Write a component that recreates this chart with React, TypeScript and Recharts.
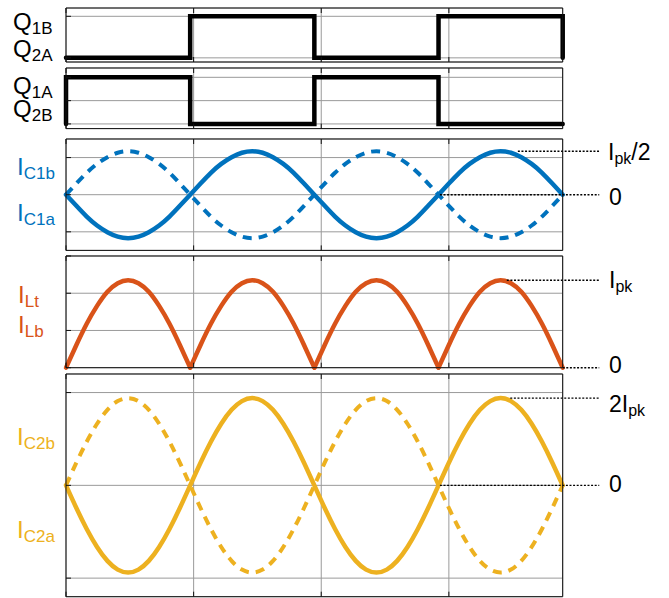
import React from 'react';
import { LineChart, Line, XAxis, YAxis, CartesianGrid, ReferenceLine } from 'recharts';

// phase in degrees, one sample every 15 deg, 4 half periods
const t = [
  0, 15, 30, 45, 60, 75, 90, 105, 120, 135, 150, 165,
  180, 195, 210, 225, 240, 255, 270, 285, 300, 315, 330, 345,
  360, 375, 390, 405, 420, 435, 450, 465, 480, 495, 510, 525,
  540, 555, 570, 585, 600, 615, 630, 645, 660, 675, 690, 705,
  720,
];
// vertical grid lines (not on the half periods)
const xTicks = [0, 185, 370, 555];

// gate signals
const q1bT = [0, 180, 360, 540, 720];
const q1bV = [0, 1, 0, 1, 0];
const q1aT = [0, 0, 180, 360, 540, 720];
const q1aV = [0, 1, 0, 1, 0, 0];

// capacitor C1 currents
const ic1a = [
  0, -0.3, -0.59, -0.83, -1.01, -1.13, -1.17, -1.13, -1.01, -0.83, -0.59, -0.3,
  0, 0.3, 0.59, 0.83, 1.01, 1.13, 1.17, 1.13, 1.01, 0.83, 0.59, 0.3,
  0, -0.3, -0.59, -0.83, -1.01, -1.13, -1.17, -1.13, -1.01, -0.83, -0.59, -0.3,
  0, 0.3, 0.59, 0.83, 1.01, 1.13, 1.17, 1.13, 1.01, 0.83, 0.59, 0.3,
  0,
];
const ic1b = [
  0, 0.3, 0.59, 0.83, 1.01, 1.13, 1.17, 1.13, 1.01, 0.83, 0.59, 0.3,
  0, -0.3, -0.59, -0.83, -1.01, -1.13, -1.17, -1.13, -1.01, -0.83, -0.59, -0.3,
  0, 0.3, 0.59, 0.83, 1.01, 1.13, 1.17, 1.13, 1.01, 0.83, 0.59, 0.3,
  0, -0.3, -0.59, -0.83, -1.01, -1.13, -1.17, -1.13, -1.01, -0.83, -0.59, -0.3,
  0,
];

// inductor current (rectified)
const il = [
  0, 0.61, 1.18, 1.66, 2.04, 2.27, 2.35, 2.27, 2.04, 1.66, 1.18, 0.61,
  0, 0.61, 1.18, 1.66, 2.04, 2.27, 2.35, 2.27, 2.04, 1.66, 1.18, 0.61,
  0, 0.61, 1.18, 1.66, 2.04, 2.27, 2.35, 2.27, 2.04, 1.66, 1.18, 0.61,
  0, 0.61, 1.18, 1.66, 2.04, 2.27, 2.35, 2.27, 2.04, 1.66, 1.18, 0.61,
  0,
];

// capacitor C2 currents
const ic2a = [
  0, -1.22, -2.35, -3.32, -4.07, -4.54, -4.7, -4.54, -4.07, -3.32, -2.35, -1.22,
  0, 1.22, 2.35, 3.32, 4.07, 4.54, 4.7, 4.54, 4.07, 3.32, 2.35, 1.22,
  0, -1.22, -2.35, -3.32, -4.07, -4.54, -4.7, -4.54, -4.07, -3.32, -2.35, -1.22,
  0, 1.22, 2.35, 3.32, 4.07, 4.54, 4.7, 4.54, 4.07, 3.32, 2.35, 1.22,
  0,
];
const ic2b = [
  0, 1.22, 2.35, 3.32, 4.07, 4.54, 4.7, 4.54, 4.07, 3.32, 2.35, 1.22,
  0, -1.22, -2.35, -3.32, -4.07, -4.54, -4.7, -4.54, -4.07, -3.32, -2.35, -1.22,
  0, 1.22, 2.35, 3.32, 4.07, 4.54, 4.7, 4.54, 4.07, 3.32, 2.35, 1.22,
  0, -1.22, -2.35, -3.32, -4.07, -4.54, -4.7, -4.54, -4.07, -3.32, -2.35, -1.22,
  0,
];

const BLUE = '#0072BD';
const ORANGE = '#D95319';
const YELLOW = '#EDB120';
const FONT = '"Liberation Sans", Arial, Helvetica, sans-serif';

const W = 669;
const PAD = 12;
const M_LEFT = 66;
const M_RIGHT = 106.3;

const q1bData = q1bT.map((x, i) => ({ t: x, v: q1bV[i] }));
const q1aData = q1aT.map((x, i) => ({ t: x, v: q1aV[i] }));
const ic1Data = t.map((x, i) => ({ t: x, a: ic1a[i], b: ic1b[i] }));
// split the rectified wave into its four arches so the cusps stay sharp
const ilData = t.map((x, i) => {
  const row: any = { t: x };
  for (let k = 0; k < 4; k++) row['h' + k] = i >= k * 12 && i <= k * 12 + 12 ? il[i] : null;
  return row;
});
const ic2Data = t.map((x, i) => ({ t: x, a: ic2a[i], b: ic2b[i] }));

const noTick = () => <g />;

function Panel({ top, height, data, yDomain, yTicks, children }: any) {
  const axis = { mirror: true, tick: noTick, tickSize: 5, stroke: '#111' };
  return (
    <div style={{ position: 'absolute', left: 0, top: top - PAD }}>
      <LineChart
        width={W}
        height={height + 2 * PAD}
        data={data}
        margin={{ top: PAD, bottom: PAD, left: M_LEFT, right: M_RIGHT }}
      >
        <CartesianGrid stroke="#9a9a9a" horizontal vertical />
        <XAxis type="number" dataKey="t" domain={[0, 720]} ticks={xTicks} {...axis} />
        <XAxis xAxisId="top" orientation="top" type="number" dataKey="t" domain={[0, 720]} ticks={xTicks} {...axis} />
        <YAxis type="number" domain={yDomain} ticks={yTicks} {...axis} />
        <YAxis yAxisId="right" orientation="right" type="number" domain={yDomain} ticks={yTicks} {...axis} />
        {children}
      </LineChart>
    </div>
  );
}

function dotted(x1: number, x2: number, y: number, key: string) {
  return (
    <ReferenceLine
      key={key}
      segment={[{ x: x1, y }, { x: x2, y }]}
      stroke="#000"
      strokeWidth={1.4}
      strokeDasharray="2 1.6"
      ifOverflow="visible"
    />
  );
}

function Label({ x, y, main, sub, tail, color = '#000', size = 24, subSize = 17 }: any) {
  return (
    <text x={x} y={y} fill={color} fontSize={size} fontFamily={FONT}>
      {main}
      <tspan fontSize={subSize} dy={4}>{sub}</tspan>
      {tail ? <tspan dy={-4} fontSize={size}>{tail}</tspan> : null}
    </text>
  );
}

const lineBase = { dot: false, activeDot: false, isAnimationActive: false } as const;

export default function App() {
  return (
    <div style={{ position: 'absolute', left: 0, top: 0, width: W, height: 598, background: '#fff' }}>
      <Panel top={8} height={54} data={q1bData} yDomain={[-0.1, 1.2]} yTicks={[0, 0.5, 1]}>
        <Line type="stepAfter" dataKey="v" stroke="#000" strokeWidth={4.5} strokeLinecap="round" {...lineBase} />
      </Panel>
      <Panel top={67.7} height={60.6} data={q1aData} yDomain={[-0.1, 1.2]} yTicks={[0, 0.5, 1]}>
        <Line type="stepAfter" dataKey="v" stroke="#000" strokeWidth={4.5} strokeLinecap="round" {...lineBase} />
      </Panel>
      <Panel top={139.3} height={111.4} data={ic1Data} yDomain={[-1.5, 1.5]} yTicks={[-1, 0, 1]}>
        <Line type="natural" dataKey="b" stroke={BLUE} strokeWidth={4} strokeDasharray="9 7" {...lineBase} />
        <Line type="natural" dataKey="a" stroke={BLUE} strokeWidth={4.5} strokeLinecap="round" {...lineBase} />
        {dotted(655, 773, 1.17, 'pk')}
        {dotted(542, 773, 0, 'z')}
      </Panel>
      <Panel top={256} height={111.7} data={ilData} yDomain={[0, 3]} yTicks={[0, 1, 2, 3]}>
        {[0, 1, 2, 3].map((k) => (
          <Line key={k} type="natural" dataKey={'h' + k} stroke={ORANGE} strokeWidth={4.5} strokeLinecap="round" {...lineBase} />
        ))}
        {dotted(639, 773, 2.35, 'pk')}
        {dotted(720, 773, 0, 'z')}
      </Panel>
      <Panel top={374} height={222.7} data={ic2Data} yDomain={[-6, 6]} yTicks={[-5, 0, 5]}>
        <Line type="natural" dataKey="b" stroke={YELLOW} strokeWidth={4} strokeDasharray="9 7" {...lineBase} />
        <Line type="natural" dataKey="a" stroke={YELLOW} strokeWidth={4.5} strokeLinecap="round" {...lineBase} />
        {dotted(644, 773, 4.7, 'pk')}
        {dotted(542, 773, 0, 'z')}
      </Panel>

      <svg width={W} height={598} style={{ position: 'absolute', left: 0, top: 0, pointerEvents: 'none' }}>
        <Label x={13} y={30} main="Q" sub="1B" />
        <Label x={13} y={56.5} main="Q" sub="2A" />
        <Label x={13} y={93.5} main="Q" sub="1A" />
        <Label x={13} y={116.5} main="Q" sub="2B" />
        <Label x={17} y={175} main="I" sub="C1b" color={BLUE} />
        <Label x={17} y={220.5} main="I" sub="C1a" color={BLUE} />
        <Label x={18} y={303} main="I" sub="Lt" color={ORANGE} />
        <Label x={18} y={333} main="I" sub="Lb" color={ORANGE} />
        <Label x={17} y={445} main="I" sub="C2b" color={YELLOW} />
        <Label x={17} y={538} main="I" sub="C2a" color={YELLOW} />

        <Label x={608} y={159.5} main="I" sub="pk" tail="/2" size={23} subSize={16} />
        <text x={609} y={204.5} fontSize={23} fontFamily={FONT}>0</text>
        <Label x={609} y={287.5} main="I" sub="pk" size={23} subSize={16} />
        <text x={609} y={373} fontSize={23} fontFamily={FONT}>0</text>
        <Label x={609} y={411.5} main="2I" sub="pk" size={23} subSize={16} />
        <text x={609} y={492} fontSize={23} fontFamily={FONT}>0</text>
      </svg>
    </div>
  );
}
